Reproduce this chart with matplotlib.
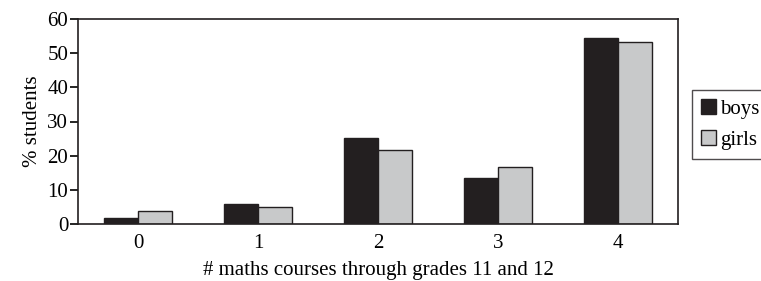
import matplotlib.pyplot as plt
import numpy as np

plt.rcParams['font.family'] = ['Liberation Serif', 'DejaVu Serif']

courses = [0, 1, 2, 3, 4]
boys = [1.8, 5.8, 25.1, 13.5, 54.4]
girls = [3.7, 5.1, 21.6, 16.6, 53.2]

fig = plt.figure(figsize=(7.61, 2.81), dpi=100)
ax = fig.add_axes([78 / 761, 1 - 224 / 281, 600 / 761, 205 / 281])

x = np.arange(len(courses))
w = 0.285
ax.bar(x - w / 2, boys, w, color='#231f20', edgecolor='#231f20', linewidth=1, label='boys')
ax.bar(x + w / 2, girls, w, color='#c8c9ca', edgecolor='#231f20', linewidth=1, label='girls')

ax.set_xlim(-0.5, 4.5)
ax.set_ylim(0, 60)
ax.set_yticks(range(0, 61, 10))
ax.set_xticks(x)
ax.set_xticklabels([str(c) for c in courses])
ax.tick_params(axis='x', length=0, pad=7, labelsize=15)
ax.tick_params(axis='y', length=6, width=1.2, direction='out', labelsize=15, pad=1)
for s in ax.spines.values():
    s.set_linewidth(1.2)
    s.set_color('#231f20')

ax.set_ylabel('% students', fontsize=15, labelpad=4)
ax.set_xlabel('# maths courses through grades 11 and 12', fontsize=15, labelpad=6)

leg = ax.legend(loc='upper left', bbox_to_anchor=(692 / 761, 1 - 90 / 281),
                bbox_transform=fig.transFigure, fontsize=15, frameon=True,
                fancybox=False, edgecolor='#231f20', handlelength=0.7, handleheight=0.7,
                handletextpad=0.2, borderpad=0.45, labelspacing=0.55, borderaxespad=0)
leg.get_frame().set_linewidth(1)

fig.savefig('out.png', dpi=100)
